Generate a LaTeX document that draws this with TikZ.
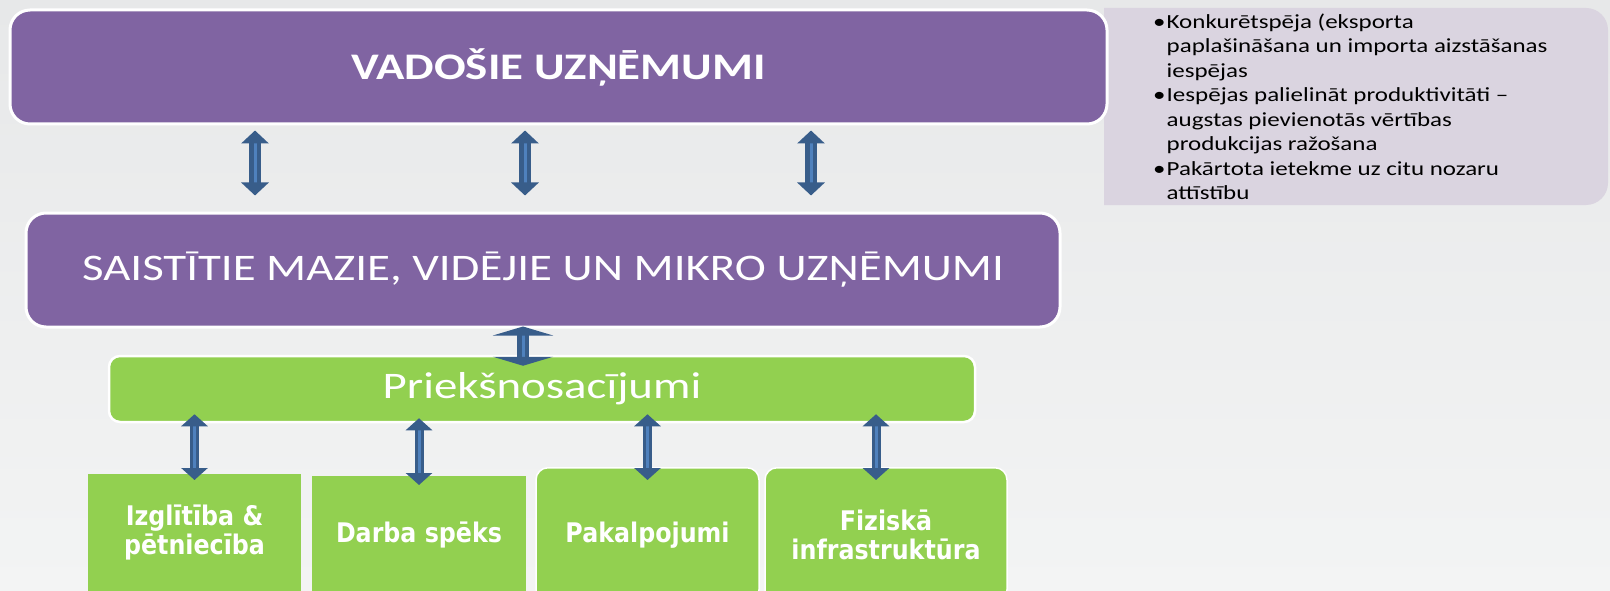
\documentclass[tikz,border=0pt]{standalone}
\usepackage{fontspec}
\setmainfont{Carlito}[FakeStretch=1.25]
\newfontfamily\boxfont{DejaVu Sans}[FakeStretch=0.88]
\usepackage{xcolor}
\usepackage{tikz}
\usetikzlibrary{arrows.meta}
\definecolor{bgtop}{HTML}{E7E8E9}
\definecolor{bgbot}{HTML}{F3F4F4}
\definecolor{vpurple}{HTML}{8064A2}
\definecolor{vgreen}{HTML}{92D050}
\definecolor{vlilac}{HTML}{DAD4E0}
\definecolor{arrowdark}{HTML}{385D8A}
\definecolor{arrowlight}{HTML}{4F81BD}
\tikzset{
    boxnode/.style = {align=center, inner sep=0pt, text centered},
    purple_box/.style = {boxnode, rectangle, rounded corners=20pt, draw=white, line width=3pt, fill=vpurple, text=white, minimum height=114pt},
    green_bar/.style = {boxnode, rectangle, rounded corners=11pt, draw=white, line width=2.5pt, fill=vgreen, text=white, minimum height=66pt},
    green_box/.style = {boxnode, rectangle, anchor=north, fill=vgreen, text=white, minimum height=117pt,
                        font=\boxfont\bfseries\fontsize{27}{29}\selectfont},
    green_rbox/.style = {green_box, draw=white, line width=1.5pt, rounded corners=12pt, minimum height=134pt},
    link/.style = {<->, draw=arrowdark, double=arrowlight, double distance=3pt},
    top_link/.style = {link, line width=4.5pt, >={Triangle[width=27pt,length=13pt]}},
    mid_link/.style = {link, line width=4.5pt, >={Triangle[width=60pt,length=9pt]}},
    low_link/.style = {link, line width=3pt, >={Triangle[width=26pt,length=12pt]}}
}

\begin{document}
\begin{tikzpicture}[x=1pt, y=-1pt]
    \useasboundingbox (0,0) rectangle (1610,591);
    \fill[top color=bgtop, bottom color=bgbot] (0,0) rectangle (1610,591);

    % side notes
    \fill[vlilac] (1104,8) [rounded corners=22pt] -- (1608,8) -- (1608,205) [sharp corners] -- (1104,205) -- cycle;
    \node (notes) [boxnode, anchor=north west, align=left, font=\fontsize{20}{24.5}\selectfont] at (1153,11)
        {\begin{tabular}{@{}l@{\hspace{1pt}}l@{}}
         • & Konkurētspēja (eksporta \\
           & paplašināšana un importa aizstāšanas \\
           & iespējas \\
         • & Iespējas palielināt produktivitāti – \\
           & augstas pievienotās vērtības \\
           & produkcijas ražošana \\
         • & Pakārtota ietekme uz citu nozaru \\
           & attīstību
         \end{tabular}};

    \node (lead) [purple_box, minimum width=1097pt, font=\bfseries\fontsize{37.5}{40}\selectfont] at (558.5,67) {VADOŠIE UZŅĒMUMI};
    \node (sme) [purple_box, minimum width=1034pt, font=\fontsize{37.5}{40}\selectfont] at (543,270) {SAISTĪTIE MAZIE, VIDĒJIE UN MIKRO UZŅĒMUMI};
    \node (cond) [green_bar, minimum width=866pt, font=\fontsize{37.5}{40}\selectfont] at (542,389) {Priekšnosacījumi};

    \node (edu) [green_box, minimum width=213pt] at (194.5,474) {Izglītība \&\\pētniecība};
    \node (labour) [green_box, minimum width=214pt] at (419,476) {Darba spēks};
    \node (serv) [green_rbox, minimum width=223pt] at (647.5,467) {Pakalpojumi};
    \node (infra) [green_rbox, minimum width=242pt] at (886,467) {Fiziskā\\infrastruktūra};

    \draw[top_link, shorten <=5pt, shorten >=16pt] (lead.south -| 255,0) -- (sme.north -| 255,0);
    \draw[top_link, shorten <=5pt, shorten >=16pt] (lead.south -| 525,0) -- (sme.north -| 525,0);
    \draw[top_link, shorten <=5pt, shorten >=16pt] (lead.south -| 811,0) -- (sme.north -| 811,0);

    \draw[mid_link, shorten <=-2pt, shorten >=-11pt] (sme.south -| 523,0) -- (cond.north -| 523,0);

    \draw[low_link, shorten <=-9pt, shorten >=-6pt] (cond.south -| edu.north) -- (edu.north);
    \draw[low_link, shorten <=-5pt, shorten >=-9pt] (cond.south -| labour.north) -- (labour.north);
    \draw[low_link, shorten <=-9pt, shorten >=-13pt] (cond.south -| serv.north) -- (serv.north);
    \draw[low_link, shorten <=-9pt, shorten >=-13pt] (cond.south -| 876,0) -- (infra.north -| 876,0);
\end{tikzpicture}
\end{document}
